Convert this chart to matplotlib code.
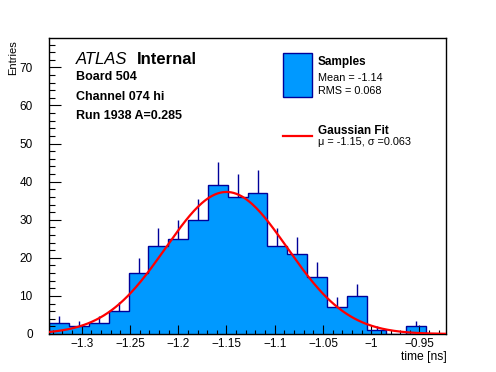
import numpy as np
import matplotlib
matplotlib.use("Agg")
import matplotlib.pyplot as plt
from matplotlib.patches import Rectangle
from matplotlib.lines import Line2D
from matplotlib.ticker import MultipleLocator, FuncFormatter

plt.rcParams['font.family'] = ['Liberation Sans', 'DejaVu Sans']

# histogram of the sample times, 20 equal bins
t_min = -1.3336
t_max = -0.9225
counts = [3, 2, 3, 6, 16, 23, 25, 30, 39, 36, 37, 23, 21, 15, 7, 10, 1, 0, 2, 0]

# gaussian fit parameters
fit_mean = -1.15
fit_sigma = 0.063
fit_amp = 37.3

x_ticks = [-1.3, -1.25, -1.2, -1.15, -1.1, -1.05, -1.0, -0.95]
y_ticks = [0, 10, 20, 30, 40, 50, 60, 70]
y_top = 77.8

fill_col = '#0099ff'
edge_col = '#000099'

W, H = 496, 372
fig = plt.figure(figsize=(W / 100, H / 100), dpi=100)
ax = fig.add_axes([49.3 / W, 1 - 334 / H, (446 - 49.3) / W, (334 - 37.7) / H])

counts = np.array(counts, dtype=float)
edges = np.linspace(t_min, t_max, len(counts) + 1)
centers = 0.5 * (edges[:-1] + edges[1:])

ax.stairs(counts, edges, fill=True, color=fill_col, zorder=1)
ax.stairs(counts, edges, color=edge_col, linewidth=1.0, zorder=2)
nz = counts > 0
ax.vlines(centers[nz], counts[nz], counts[nz] + np.sqrt(counts[nz]),
          color=edge_col, linewidth=1.0, zorder=2)

xs = np.linspace(t_min, t_max, 300)
ax.plot(xs, fit_amp * np.exp(-0.5 * ((xs - fit_mean) / fit_sigma) ** 2),
        color='#ff0000', linewidth=1.6, zorder=3)

ax.set_xlim(t_min, t_max)
ax.set_ylim(0, y_top)
ax.set_xticks(x_ticks)
ax.set_yticks(y_ticks)
ax.xaxis.set_minor_locator(MultipleLocator(0.01))
ax.yaxis.set_minor_locator(MultipleLocator(2))
ax.xaxis.set_major_formatter(FuncFormatter(lambda v, p: f'{v:g}'.replace('-', '\u2212')))
ax.tick_params(which='both', direction='in', top=False, right=False, labelsize=8.5, width=0.8)
ax.tick_params(axis='x', which='major', length=6.5, pad=3)
ax.tick_params(axis='x', which='minor', length=3.2)
ax.tick_params(axis='y', which='major', length=8.6, pad=12)
ax.tick_params(axis='y', which='minor', length=4.3)
for s in ax.spines.values():
    s.set_linewidth(1.0)

fig.text(446.5 / W, 1 - 357 / H, 'time [ns]', ha='right', va='center', fontsize=8.7)
fig.text(13.5 / W, 1 - 40 / H, 'Entries', rotation=90, ha='center', va='top', fontsize=8)

# labels
fig.text(76 / W, 1 - 63.5 / H, 'ATLAS', style='italic', fontsize=12, va='baseline')
fig.text(136.5 / W, 1 - 63.5 / H, 'Internal', weight='bold', fontsize=12, va='baseline')
fig.text(76 / W, 1 - 80 / H, 'Board 504', weight='bold', fontsize=9, va='baseline')
fig.text(76 / W, 1 - 100 / H, 'Channel 074 hi', weight='bold', fontsize=9, va='baseline')
fig.text(76 / W, 1 - 119 / H, 'Run 1938 A=0.285', weight='bold', fontsize=9, va='baseline')

# legend
fig.patches.append(Rectangle((283.3 / W, 1 - 96.7 / H), (311.7 - 283.3) / W, (96.7 - 53.3) / H,
                             transform=fig.transFigure, facecolor=fill_col, edgecolor=edge_col,
                             linewidth=1.0))
fig.lines.append(Line2D([283.3 / W, 311.7 / W], [1 - 136 / H, 1 - 136 / H],
                        transform=fig.transFigure, color='#ff0000', linewidth=1.6))
fig.text(317.5 / W, 1 - 65.5 / H, 'Samples', weight='bold', fontsize=8.5, va='baseline')
fig.text(317.5 / W, 1 - 81 / H, 'Mean = -1.14', fontsize=7.8, va='baseline')
fig.text(317.5 / W, 1 - 94.5 / H, 'RMS = 0.068', fontsize=7.8, va='baseline')
fig.text(317.5 / W, 1 - 133.5 / H, 'Gaussian Fit', weight='bold', fontsize=8.5, va='baseline')
fig.text(317.5 / W, 1 - 145 / H, '\u03bc = -1.15, \u03c3 =0.063', fontsize=7.8, va='baseline')

fig.savefig('out.png', dpi=100)
